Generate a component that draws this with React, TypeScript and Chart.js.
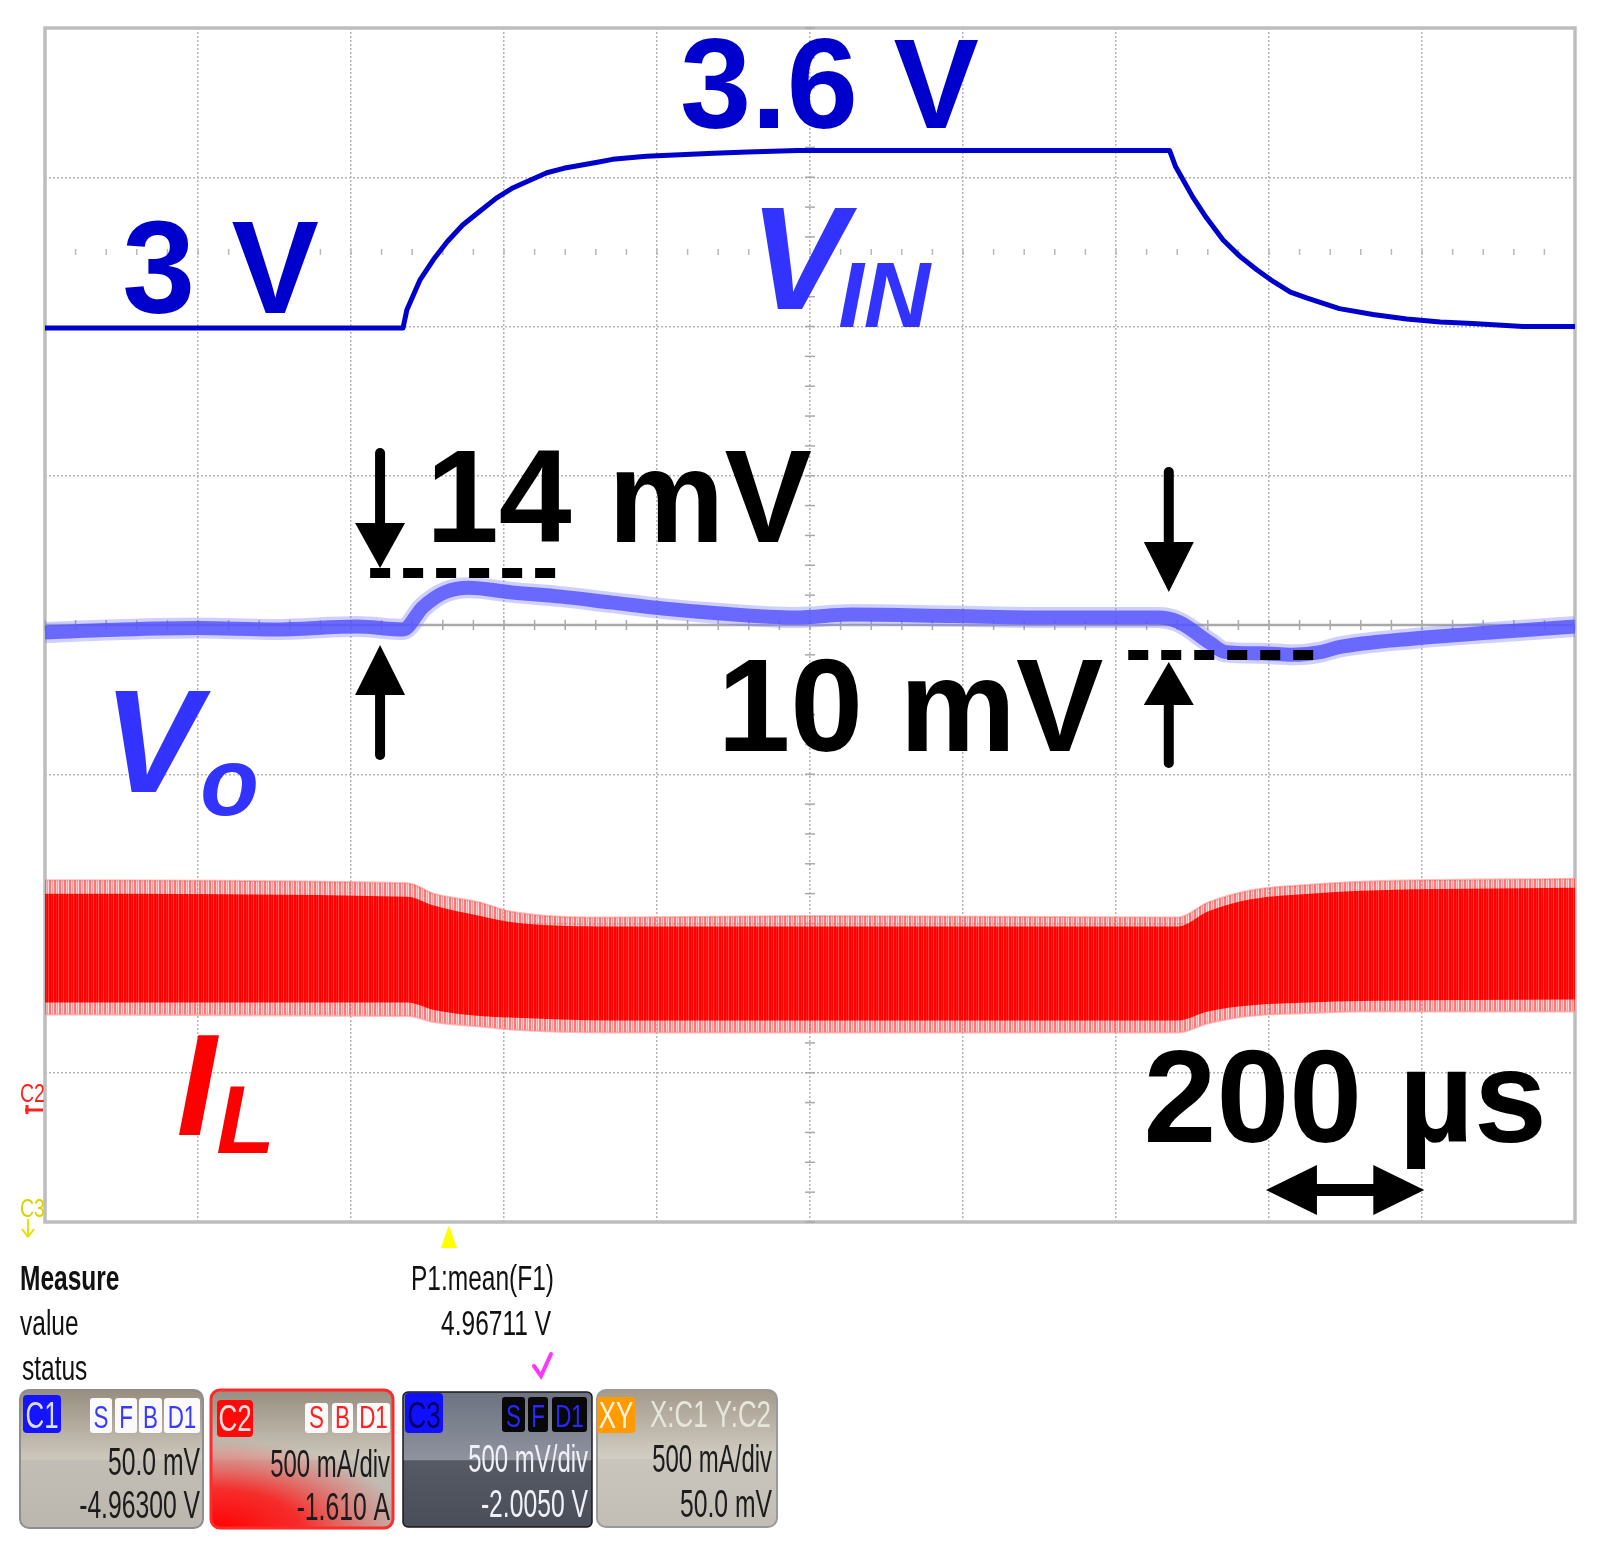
import React, { useEffect, useRef } from 'react';
import { Chart, registerables } from 'chart.js';

Chart.register(...registerables);

// Horizontal axis: time in µs (200 µs/div, 10 div). Vertical axis: screen divisions (-4 .. 4).
const X_MIN = 0;
const X_MAX = 2000;
const X_STEP = 200;
const Y_MIN = -4;
const Y_MAX = 4;
const Y_STEP = 1;

// V_IN trace (C3, 500 mV/div)
const T_VIN = [0, 468, 473, 490, 508, 526, 546, 568, 590, 612, 634, 656, 678, 700, 722, 742, 786, 830, 874, 918, 984, 1100, 1300, 1470, 1478, 1488, 1500, 1518, 1540, 1562, 1584, 1606, 1628, 1650, 1692, 1736, 1780, 1824, 1866, 1932, 2000];
const VIN = [1.99, 1.99, 2.11, 2.31, 2.45, 2.57, 2.68, 2.77, 2.86, 2.93, 2.98, 3.03, 3.06, 3.08, 3.10, 3.12, 3.14, 3.15, 3.16, 3.17, 3.18, 3.18, 3.18, 3.18, 3.07, 2.98, 2.87, 2.73, 2.58, 2.47, 2.38, 2.30, 2.23, 2.19, 2.12, 2.08, 2.05, 2.03, 2.02, 2.00, 2.00];

// V_O trace (C1, 50 mV/div)
const T_VO = [0, 100, 201, 300, 408, 468, 494, 523, 554, 608, 675, 741, 808, 875, 982, 1054, 1188, 1322, 1455, 1482, 1523, 1542, 1590, 1630, 1669, 1690, 1790, 1890, 2000];
const VO = [-0.05, -0.03, -0.02, -0.03, -0.01, -0.03, 0.12, 0.22, 0.25, 0.22, 0.19, 0.15, 0.11, 0.08, 0.05, 0.07, 0.06, 0.05, 0.05, 0.02, -0.12, -0.18, -0.19, -0.20, -0.18, -0.15, -0.09, -0.05, -0.01];

// I_L ripple band envelopes (C2, 500 mA/div)
const T_IL = [0, 474, 508, 569, 608, 741, 1000, 1481, 1520, 1574, 1654, 1720, 2000];
const IL_OUTER_TOP = [-1.71, -1.73, -1.80, -1.86, -1.92, -1.96, -1.95, -1.96, -1.86, -1.78, -1.74, -1.72, -1.70];
const IL_INNER_TOP = [-1.80, -1.82, -1.88, -1.95, -1.99, -2.02, -2.02, -2.02, -1.92, -1.84, -1.80, -1.78, -1.76];
const IL_INNER_BOT = [-2.53, -2.53, -2.58, -2.62, -2.63, -2.65, -2.65, -2.65, -2.59, -2.55, -2.53, -2.52, -2.51];
const IL_OUTER_BOT = [-2.61, -2.62, -2.66, -2.69, -2.71, -2.73, -2.73, -2.73, -2.67, -2.62, -2.60, -2.59, -2.59];

const FONT = '"Liberation Sans", Arial, sans-serif';

const pts = (t: number[], v: number[]) => t.map((x, i) => ({ x, y: v[i] }));

function makePattern(colors: string[]): any {
  const c = document.createElement('canvas');
  c.width = colors.length;
  c.height = 1;
  const g = c.getContext('2d')!;
  colors.forEach((col, i) => {
    g.fillStyle = col;
    g.fillRect(i, 0, 1, 1);
  });
  return g.createPattern(c, 'repeat') || colors[0];
}

function seg(ctx: CanvasRenderingContext2D, x1: number, y1: number, x2: number, y2: number) {
  ctx.beginPath();
  ctx.moveTo(x1, y1);
  ctx.lineTo(x2, y2);
  ctx.stroke();
}

type TxtOpt = { bold?: boolean; italic?: boolean; align?: CanvasTextAlign; sx?: number };
function txt(ctx: CanvasRenderingContext2D, s: string, x: number, y: number, size: number, color: string, o: TxtOpt = {}) {
  ctx.save();
  ctx.translate(x, y);
  ctx.scale(o.sx ?? 1, 1);
  ctx.font = `${o.italic ? 'italic ' : ''}${o.bold ? 'bold ' : ''}${size}px ${FONT}`;
  ctx.fillStyle = color;
  ctx.textAlign = o.align ?? 'left';
  ctx.textBaseline = 'alphabetic';
  ctx.fillText(s, 0, 0);
  ctx.restore();
}

function vArrow(ctx: CanvasRenderingContext2D, x: number, yEnd: number, yBase: number, yTip: number) {
  ctx.lineWidth = 10;
  ctx.lineCap = 'round';
  seg(ctx, x, yEnd, x, yBase);
  ctx.beginPath();
  ctx.moveTo(x - 25, yBase);
  ctx.lineTo(x + 25, yBase);
  ctx.lineTo(x, yTip);
  ctx.closePath();
  ctx.fill();
}

function box(ctx: CanvasRenderingContext2D, x: number, y: number, w: number, h: number, r: number, fill: any, stroke?: string, lw = 1) {
  ctx.beginPath();
  ctx.roundRect(x, y, w, h, r);
  ctx.fillStyle = fill;
  ctx.fill();
  if (stroke) {
    ctx.strokeStyle = stroke;
    ctx.lineWidth = lw;
    ctx.stroke();
  }
}

function beigeGrad(ctx: CanvasRenderingContext2D, y0: number, y1: number, light = false) {
  const g = ctx.createLinearGradient(0, y0, 0, y1);
  g.addColorStop(0, light ? '#a39a8b' : '#978e7f');
  g.addColorStop(0.5, light ? '#d2cdc3' : '#cdc7bc');
  g.addColorStop(0.51, light ? '#c9c5bd' : '#c3beb5');
  g.addColorStop(1, light ? '#c2beb6' : '#bcb7ae');
  return g;
}

const overlay = {
  id: 'scopeOverlay',
  beforeDatasetsDraw(chart: any) {
    const { ctx, chartArea: a } = chart;
    const X = (v: number) => chart.scales.x.getPixelForValue(v);
    const Y = (v: number) => chart.scales.y.getPixelForValue(v);
    ctx.save();
    ctx.strokeStyle = '#bdbdbd';
    ctx.lineWidth = 3.5;
    ctx.strokeRect(a.left, a.top, a.right - a.left, a.bottom - a.top);
    // centre cross with minor ticks
    ctx.strokeStyle = '#a9a9a9';
    ctx.lineWidth = 2.5;
    seg(ctx, a.left, Y(0), a.right, Y(0));
    ctx.lineWidth = 1.5;
    for (let i = 0; i <= 50; i++) {
      const t = (X_MAX * i) / 50;
      seg(ctx, X(t), Y(0) - 5, X(t), Y(0) + 5);
    }
    for (let i = 0; i <= 40; i++) {
      const d = Y_MIN + i * 0.2;
      seg(ctx, X(1000) - 5, Y(d), X(1000) + 5, Y(d));
    }
    ctx.strokeStyle = '#b8b8b8';
    for (let i = 1; i < 50; i++) {
      const t = (X_MAX * i) / 50;
      seg(ctx, X(t), Y(2.5) - 3, X(t), Y(2.5) + 3);
    }
    ctx.restore();
  },
  afterDatasetsDraw(chart: any) {
    const { ctx } = chart;
    const X = (v: number) => chart.scales.x.getPixelForValue(v);
    const Y = (v: number) => chart.scales.y.getPixelForValue(v);
    ctx.save();
    // trace labels
    txt(ctx, '3 V', X(101), Y(2.09), 131, '#0000cc', { bold: true });
    txt(ctx, '3.6 V', X(830), Y(3.33), 128, '#0000cc', { bold: true });
    txt(ctx, 'V', X(921), Y(2.117), 146, '#3333ff', { bold: true, italic: true });
    txt(ctx, 'IN', X(1037), Y(1.997), 92, '#3333ff', { bold: true, italic: true });
    txt(ctx, 'V', X(76), Y(-1.119), 146, '#3333ff', { bold: true, italic: true });
    txt(ctx, 'o', X(203), Y(-1.273), 96, '#3333ff', { bold: true, italic: true });
    txt(ctx, 'I', X(172), Y(-3.417), 144, '#ff0000', { bold: true, italic: true });
    txt(ctx, 'L', X(224), Y(-3.538), 96, '#ff0000', { bold: true, italic: true });
    // measurement annotations
    txt(ctx, '14 mV', X(498), Y(0.556), 131, '#000', { bold: true });
    txt(ctx, '10 mV', X(879), Y(-0.844), 131, '#000', { bold: true });
    txt(ctx, '200 µs', X(1436), Y(-3.464), 131, '#000', { bold: true });
    ctx.fillStyle = '#000';
    ctx.strokeStyle = '#000';
    vArrow(ctx, X(438), Y(1.152), Y(0.683), Y(0.382));
    vArrow(ctx, X(438), Y(-0.871), Y(-0.469), Y(-0.134));
    vArrow(ctx, X(1469), Y(1.025), Y(0.556), Y(0.221));
    vArrow(ctx, X(1469), Y(-0.925), Y(-0.536), Y(-0.248));
    ctx.lineCap = 'butt';
    ctx.lineWidth = 10;
    ctx.setLineDash([20, 13]);
    seg(ctx, X(425), Y(0.348), X(678), Y(0.348));
    seg(ctx, X(1416), Y(-0.201), X(1669), Y(-0.201));
    ctx.setLineDash([]);
    // 200 µs double arrow
    const ya = Y(-3.786);
    const xl = X(1596);
    const xr = X(1803);
    ctx.lineWidth = 12;
    seg(ctx, xl + 40, ya, xr - 40, ya);
    ctx.beginPath();
    ctx.moveTo(xl, ya);
    ctx.lineTo(xl + 51, ya - 25);
    ctx.lineTo(xl + 51, ya + 25);
    ctx.closePath();
    ctx.fill();
    ctx.beginPath();
    ctx.moveTo(xr, ya);
    ctx.lineTo(xr - 51, ya - 25);
    ctx.lineTo(xr - 51, ya + 25);
    ctx.closePath();
    ctx.fill();
    ctx.restore();
  },
  afterDraw(chart: any) {
    const { ctx, chartArea: a } = chart;
    const X = (v: number) => chart.scales.x.getPixelForValue(v);
    ctx.save();
    // channel markers at left edge
    txt(ctx, 'C2', 20, 1102, 26, '#ff2020', { sx: 0.75 });
    ctx.strokeStyle = '#ff2020';
    ctx.lineWidth = 3;
    seg(ctx, 25, 1110, 43, 1110);
    seg(ctx, 27, 1105, 27, 1114);
    txt(ctx, 'C3', 20, 1217, 26, '#d6d400', { sx: 0.75 });
    ctx.strokeStyle = '#e8e000';
    ctx.lineWidth = 2;
    seg(ctx, 28, 1219, 28, 1236);
    seg(ctx, 22, 1229, 28, 1237);
    seg(ctx, 34, 1229, 28, 1237);
    // trigger marker
    const tx = X(528);
    ctx.fillStyle = '#ffff00';
    ctx.beginPath();
    ctx.moveTo(tx, a.bottom + 3);
    ctx.lineTo(tx - 8, a.bottom + 26);
    ctx.lineTo(tx + 8, a.bottom + 26);
    ctx.closePath();
    ctx.fill();

    // measurement table
    txt(ctx, 'Measure', 20, 1290, 35, '#111', { bold: true, sx: 0.7 });
    txt(ctx, 'value', 20, 1335, 35, '#111', { sx: 0.7 });
    txt(ctx, 'status', 22, 1380, 35, '#111', { sx: 0.7 });
    txt(ctx, 'P1:mean(F1)', 554, 1290, 35, '#111', { align: 'right', sx: 0.7 });
    txt(ctx, '4.96711 V', 551, 1335, 35, '#111', { align: 'right', sx: 0.7 });
    ctx.strokeStyle = '#ff33ff';
    ctx.lineWidth = 4;
    ctx.lineCap = 'round';
    ctx.beginPath();
    ctx.moveTo(534, 1366);
    ctx.lineTo(541, 1376);
    ctx.lineTo(551, 1354);
    ctx.stroke();
    ctx.lineCap = 'butt';

    const small = (s: string, x: number, y: number, w: number, h: number, bg: string, fg: string) => {
      box(ctx, x, y, w, h, 3, bg);
      txt(ctx, s, x + w / 2, y + h - 5, 32, fg, { align: 'center', sx: 0.7 });
    };

    // C1 panel
    box(ctx, 20, 1390, 183, 138, 9, beigeGrad(ctx, 1390, 1528), '#8e8e8e', 2);
    box(ctx, 23, 1395, 38, 38, 4, '#1414ff');
    txt(ctx, 'C1', 42, 1428, 36, '#dcdcff', { align: 'center', sx: 0.72 });
    small('S', 90, 1398, 22, 35, '#fafafa', '#3a3aff');
    small('F', 115, 1398, 22, 35, '#fafafa', '#3a3aff');
    small('B', 139, 1398, 23, 35, '#fafafa', '#3a3aff');
    small('D1', 164, 1398, 36, 35, '#fafafa', '#3a3aff');
    txt(ctx, '50.0 mV', 200, 1475, 38, '#1c1c1c', { align: 'right', sx: 0.65 });
    txt(ctx, '-4.96300 V', 200, 1518, 38, '#1c1c1c', { align: 'right', sx: 0.65 });

    // C2 panel
    box(ctx, 211, 1390, 182, 138, 9, beigeGrad(ctx, 1390, 1528));
    ctx.save();
    ctx.beginPath();
    ctx.roundRect(211, 1390, 182, 138, 9);
    ctx.clip();
    ctx.translate(215, 1530);
    ctx.scale(1.6, 0.75);
    const rg = ctx.createRadialGradient(0, 0, 0, 0, 0, 120);
    rg.addColorStop(0, 'rgba(255,0,0,1)');
    rg.addColorStop(0.45, 'rgba(255,20,20,0.85)');
    rg.addColorStop(1, 'rgba(255,60,60,0)');
    ctx.fillStyle = rg;
    ctx.fillRect(-10, -200, 200, 220);
    ctx.restore();
    ctx.beginPath();
    ctx.roundRect(211, 1390, 182, 138, 9);
    ctx.strokeStyle = '#ff2a2a';
    ctx.lineWidth = 3;
    ctx.stroke();
    box(ctx, 217, 1400, 36, 37, 4, '#ff0a0a');
    txt(ctx, 'C2', 235, 1431, 36, '#ffe0e0', { align: 'center', sx: 0.72 });
    small('S', 305, 1403, 23, 30, '#fafafa', '#ff2020');
    small('B', 332, 1403, 21, 30, '#fafafa', '#ff2020');
    small('D1', 357, 1403, 33, 30, '#fafafa', '#ff2020');
    txt(ctx, '500 mA/div', 390, 1477, 38, '#1c1c1c', { align: 'right', sx: 0.63 });
    txt(ctx, '-1.610 A', 390, 1520, 38, '#1c1c1c', { align: 'right', sx: 0.65 });

    // C3 panel
    const g3 = ctx.createLinearGradient(0, 1392, 0, 1527);
    g3.addColorStop(0, '#6c7280');
    g3.addColorStop(0.5, '#8e939e');
    g3.addColorStop(0.51, '#555a64');
    g3.addColorStop(1, '#4a4e58');
    box(ctx, 403, 1392, 189, 135, 5, g3, '#1a1a1a', 1.5);
    box(ctx, 405, 1393, 38, 40, 4, '#1010ff');
    txt(ctx, 'C3', 424, 1428, 36, '#00005a', { align: 'center', sx: 0.72 });
    small('S', 502, 1397, 23, 35, '#080808', '#2828ff');
    small('F', 528, 1397, 20, 35, '#080808', '#2828ff');
    small('D1', 552, 1397, 35, 35, '#080808', '#2828ff');
    txt(ctx, '500 mV/div', 588, 1472, 38, '#f0f0f8', { align: 'right', sx: 0.63 });
    txt(ctx, '-2.0050 V', 588, 1517, 38, '#f0f0f8', { align: 'right', sx: 0.65 });

    // XY panel
    box(ctx, 597, 1390, 180, 137, 9, beigeGrad(ctx, 1390, 1527, true), '#9a9a9a', 2);
    box(ctx, 597, 1397, 38, 36, 3, '#ff9a00');
    txt(ctx, 'XY', 616, 1428, 36, '#fff4e0', { align: 'center', sx: 0.72 });
    txt(ctx, 'X:C1 Y:C2', 650, 1427, 36, '#e6e6dc', { sx: 0.72 });
    txt(ctx, '500 mA/div', 772, 1472, 38, '#1c1c1c', { align: 'right', sx: 0.63 });
    txt(ctx, '50.0 mV', 772, 1517, 38, '#1c1c1c', { align: 'right', sx: 0.65 });
    ctx.restore();
  },
};

export default function App() {
  const ref = useRef<HTMLCanvasElement>(null);
  useEffect(() => {
    document.body.style.margin = '0';
    const redPattern = makePattern(['#ff0000', '#ff1414', '#ff0000', '#ff3a3a', '#ff0505']);
    const fringePattern = makePattern(['rgba(255,70,70,0.75)', 'rgba(255,150,150,0.45)', 'rgba(255,100,100,0.65)', 'rgba(255,170,170,0.4)', 'rgba(255,60,60,0.7)']);
    const common = { pointRadius: 0, pointHoverRadius: 0, borderJoinStyle: 'round' as const };
    const chart = new Chart(ref.current!, {
      type: 'line',
      data: {
        datasets: [
          { ...common, data: pts(T_IL, IL_OUTER_TOP), borderColor: 'rgba(255,140,140,0.6)', borderWidth: 2, cubicInterpolationMode: 'monotone', fill: false, order: 7 },
          { ...common, data: pts(T_IL, IL_OUTER_BOT), borderColor: 'rgba(255,140,140,0.6)', borderWidth: 2, cubicInterpolationMode: 'monotone', fill: '-1', backgroundColor: fringePattern, order: 6 },
          { ...common, data: pts(T_IL, IL_INNER_TOP), borderColor: 'transparent', borderWidth: 0, cubicInterpolationMode: 'monotone', fill: false, order: 5 },
          { ...common, data: pts(T_IL, IL_INNER_BOT), borderColor: 'transparent', borderWidth: 0, cubicInterpolationMode: 'monotone', fill: '-1', backgroundColor: redPattern, order: 4 },
          { ...common, data: pts(T_VIN, VIN), borderColor: '#0000cc', borderWidth: 5, tension: 0, fill: false, order: 3 },
          { ...common, data: pts(T_VO, VO), borderColor: 'rgba(120,120,255,0.35)', borderWidth: 21, cubicInterpolationMode: 'monotone', fill: false, order: 2 },
          { ...common, data: pts(T_VO, VO), borderColor: 'rgba(80,80,255,0.8)', borderWidth: 14, cubicInterpolationMode: 'monotone', fill: false, order: 1 },
        ],
      } as any,
      options: {
        animation: false,
        responsive: false,
        devicePixelRatio: 1,
        events: [],
        layout: { padding: { left: 45, top: 28, right: 28, bottom: 320 }, autoPadding: false },
        plugins: { legend: { display: false }, tooltip: { enabled: false }, filler: { drawTime: 'beforeDatasetDraw' } },
        scales: {
          x: {
            type: 'linear',
            min: X_MIN,
            max: X_MAX,
            ticks: { display: false, stepSize: X_STEP },
            grid: { color: '#b4b4b4', lineWidth: 1.5, drawTicks: false },
            border: { display: false, dash: [2, 2] },
          },
          y: {
            type: 'linear',
            min: Y_MIN,
            max: Y_MAX,
            ticks: { display: false, stepSize: Y_STEP },
            grid: { color: '#b4b4b4', lineWidth: 1.5, drawTicks: false },
            border: { display: false, dash: [2, 2] },
          },
        },
      } as any,
      plugins: [overlay],
    });
    return () => chart.destroy();
  }, []);
  return (
    <div style={{ position: 'relative', width: 1603, height: 1542, background: '#fff' }}>
      <canvas ref={ref} width={1603} height={1542} style={{ display: 'block', width: 1603, height: 1542 }} />
    </div>
  );
}
